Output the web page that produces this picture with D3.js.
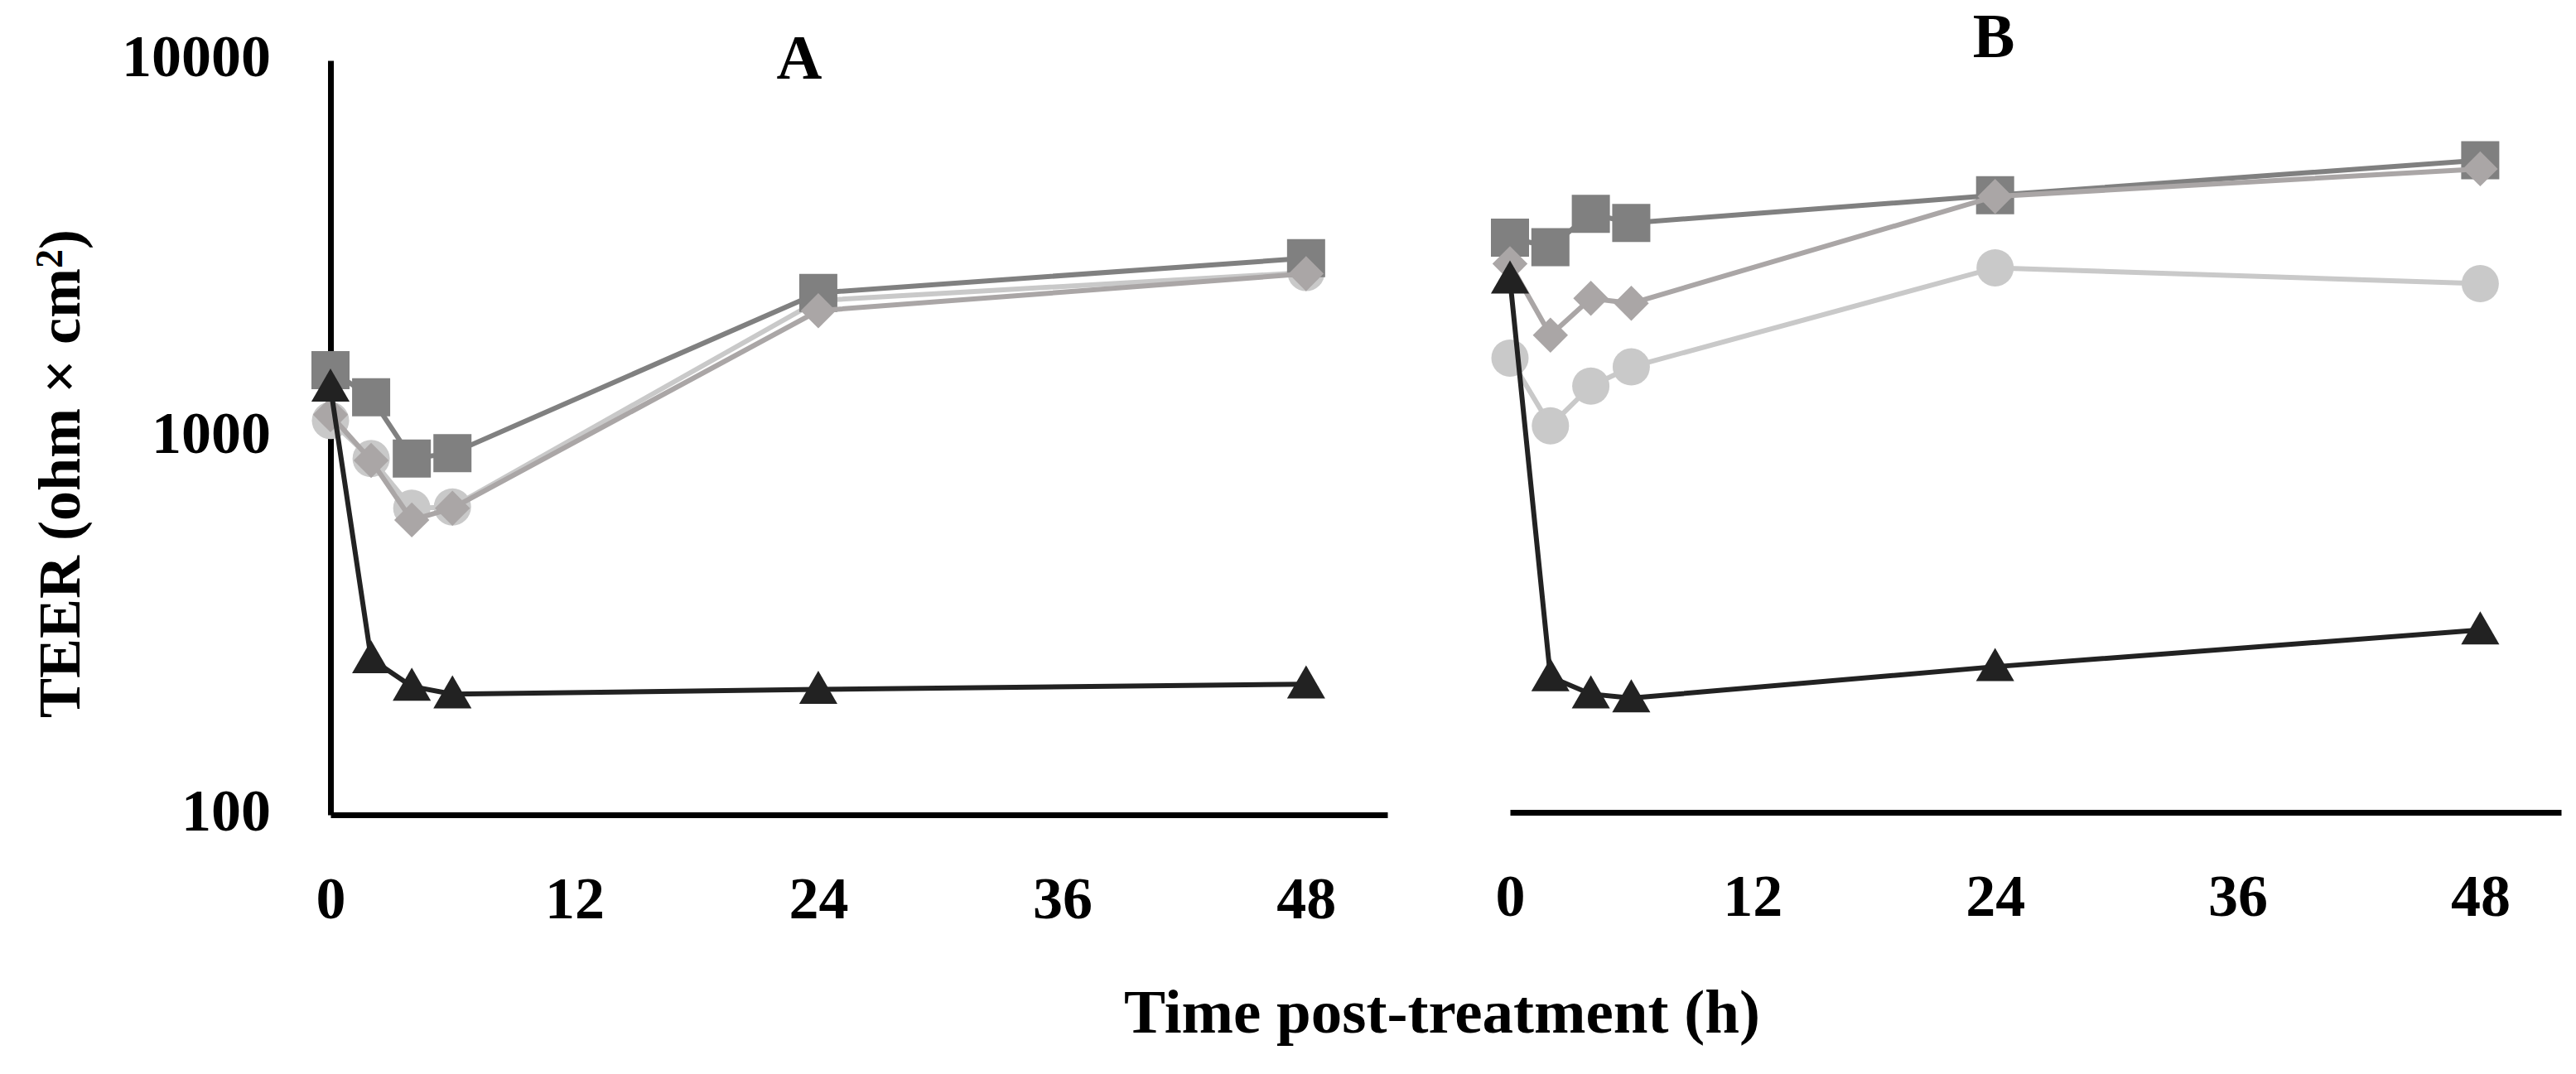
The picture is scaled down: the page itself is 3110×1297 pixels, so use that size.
<!DOCTYPE html>
<html>
<head>
<meta charset="utf-8">
<script src="https://cdn.jsdelivr.net/npm/d3@7"></script>
<style>
  body { margin: 0; background: #fff; }
  svg text { font-family: "Liberation Serif", "DejaVu Serif", serif; font-weight: bold; fill: #000; }
</style>
</head>
<body>
<div id="chart"></div>
<script>
// sampling times (h)
const hours = [0, 2, 4, 6, 24, 48];
const xTicks = [0, 12, 24, 36, 48];
const yTicks = [100, 1000, 10000];

// panel A, TEER values
const squareA = [1510, 1280, 880, 910, 2420, 2990];
const diamondA = [1150, 870, 605, 650, 2170, 2720];
const circleA = [1110, 880, 650, 655, 2310, 2740];
const triangleA = [1360, 259, 219, 209, 215, 222];

// panel B, TEER values
const squareB = [3390, 3200, 3920, 3710, 4390, 5440];
const diamondB = [2890, 1870, 2340, 2270, 4360, 5160];
const circleB = [1625, 1075, 1370, 1540, 2820, 2560];
const triangleB = [2630, 232, 209, 204, 247, 309];

const width = 3110;
const height = 1297;

const svg = d3.select("#chart")
  .append("svg")
  .attr("width", width)
  .attr("height", height);

const yScale = d3.scaleLog()
  .domain([100, 10000])
  .range([984, 73]);

// draw order: circle, square, diamond, triangle
const styles = {
  circle:   { color: "#c9c9c9", symbol: d3.symbolCircle,   size: 1590, rotate: 0 },
  square:   { color: "#808080", symbol: d3.symbolSquare,   size: 2116, rotate: 0 },
  diamond:  { color: "#aaa6a6", symbol: d3.symbolSquare,   size: 900,  rotate: 45 },
  triangle: { color: "#222222", symbol: d3.symbolTriangle, size: 920,  rotate: 0 },
};

function panel(opts) {
  const x = d3.scaleLinear().domain([0, 52]).range([opts.x0, opts.x1]);
  const g = svg.append("g");

  // x axis
  const xAxis = g.append("g")
    .attr("transform", `translate(0,${opts.axisY})`)
    .call(d3.axisBottom(x).tickValues(xTicks).tickSize(0).tickPadding(0));
  xAxis.select(".domain").attr("stroke", "#000").attr("stroke-width", 7);
  xAxis.selectAll("text")
    .attr("y", 0)
    .attr("dy", 0)
    .attr("transform", "translate(0,125)")
    .style("font-size", "72px");

  if (opts.yAxis) {
    const yAxis = g.append("g")
      .attr("transform", `translate(${opts.x0},0)`)
      .call(d3.axisLeft(yScale).tickValues(yTicks).tickFormat(d3.format("d")).tickSize(0).tickPadding(0));
    yAxis.select(".domain").attr("stroke", "#000").attr("stroke-width", 7);
    yAxis.selectAll("text")
      .attr("x", -72)
      .attr("dy", "0.25em")
      .style("font-size", "72px");
  }

  const line = d3.line()
    .x((d, i) => x(hours[i]))
    .y(d => yScale(d));

  opts.series.forEach(s => {
    const st = styles[s.shape];
    g.append("path")
      .datum(s.values)
      .attr("fill", "none")
      .attr("stroke", st.color)
      .attr("stroke-width", 6)
      .attr("d", line);
    g.selectAll(null)
      .data(s.values)
      .enter()
      .append("path")
      .attr("d", d3.symbol().type(st.symbol).size(st.size))
      .attr("transform", (d, i) => `translate(${x(hours[i])},${yScale(d) + (s.shape === "triangle" ? 4 : 0)}) rotate(${st.rotate})`)
      .attr("fill", st.color);
  });

  g.append("text")
    .attr("x", opts.labelX)
    .attr("y", opts.labelY)
    .attr("text-anchor", "middle")
    .style("font-size", "76px")
    .text(opts.label);
}

panel({
  x0: 399, x1: 1675, axisY: 984, yAxis: true,
  label: "A", labelX: 965, labelY: 95,
  series: [
    { shape: "circle", values: circleA },
    { shape: "square", values: squareA },
    { shape: "diamond", values: diamondA },
    { shape: "triangle", values: triangleA },
  ],
});

panel({
  x0: 1823, x1: 3092, axisY: 981, yAxis: false,
  label: "B", labelX: 2407, labelY: 69,
  series: [
    { shape: "circle", values: circleB },
    { shape: "square", values: squareB },
    { shape: "diamond", values: diamondB },
    { shape: "triangle", values: triangleB },
  ],
});

// axis titles
svg.append("text")
  .attr("x", 1741)
  .attr("y", 1247)
  .attr("text-anchor", "middle")
  .style("font-size", "75px")
  .text("Time post-treatment (h)");

const yTitle = svg.append("text")
  .attr("transform", "translate(96,572) rotate(-90)")
  .attr("text-anchor", "middle")
  .style("font-size", "72px");
yTitle.append("tspan").text("TEER (ohm × cm");
yTitle.append("tspan").attr("dy", "-0.45em").style("font-size", "46px").text("2");
yTitle.append("tspan").attr("dy", "0.3em").text(")");
</script>
</body>
</html>
